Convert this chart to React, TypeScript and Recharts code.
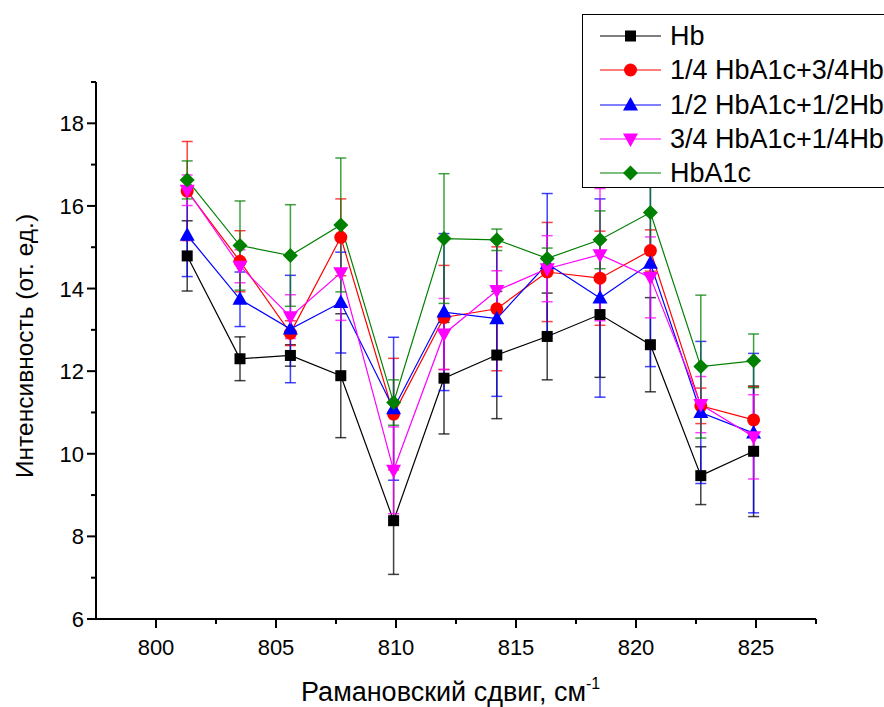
import React from 'react';
import { LineChart, Line, XAxis, YAxis, ErrorBar, Legend, Label } from 'recharts';

// Raman shift, cm-1
const shifts = [801.3, 803.5, 805.6, 807.7, 809.9, 812.0, 814.2, 816.3, 818.5, 820.6, 822.7, 824.9];

const hb = [14.79, 12.3, 12.38, 11.89, 8.38, 11.83, 12.39, 12.84, 13.37, 12.64, 9.47, 10.06];
const hbErr = [0.85, 0.53, 0.26, 1.5, 1.3, 1.35, 1.54, 1.05, 1.52, 1.14, 0.7, 1.58];

const quarter = [16.36, 14.66, 12.92, 15.24, 10.96, 13.3, 13.51, 14.4, 14.25, 14.92, 11.16, 10.82];
const quarterErr = [1.2, 0.74, 0.3, 0.93, 1.35, 1.26, 1.5, 1.2, 1.14, 0.5, 0.43, 0.8];

const half = [15.29, 13.74, 13.02, 13.66, 11.09, 13.43, 13.27, 14.6, 13.77, 14.61, 11.0, 10.5];
const halfErr = [1.0, 0.66, 1.3, 1.22, 1.73, 1.9, 1.88, 1.7, 2.4, 2.5, 1.72, 1.93];

const threeQuarter = [16.38, 14.54, 13.32, 14.38, 9.6, 12.9, 13.95, 14.48, 14.82, 14.27, 11.19, 10.41];
const threeQuarterErr = [0.37, 0.4, 0.53, 1.15, 1.05, 0.86, 0.48, 0.8, 1.6, 0.98, 0.68, 1.02];

const hba1c = [16.63, 15.04, 14.8, 15.54, 11.24, 15.21, 15.18, 14.73, 15.18, 15.84, 12.11, 12.25];
const hba1cErr = [0.46, 1.08, 1.23, 1.62, 0.55, 1.57, 0.26, 0.25, 0.7, 1.0, 1.73, 0.65];

const xTicks = [800, 802.5, 805, 807.5, 810, 812.5, 815, 817.5, 820, 822.5, 825, 827.5];
const yTicks = [6, 7, 8, 9, 10, 11, 12, 13, 14, 15, 16, 17, 18, 19];

const FONT = '"Liberation Sans", Arial, sans-serif';

const data = shifts.map((x, i) => ({
  x,
  hb: hb[i], hbErr: hbErr[i],
  quarter: quarter[i], quarterErr: quarterErr[i],
  half: half[i], halfErr: halfErr[i],
  threeQuarter: threeQuarter[i], threeQuarterErr: threeQuarterErr[i],
  hba1c: hba1c[i], hba1cErr: hba1cErr[i],
}));

type Shape = 'square' | 'circle' | 'up' | 'down' | 'diamond';

const series: { key: string; name: string; color: string; shape: Shape }[] = [
  { key: 'hb', name: 'Hb', color: '#000000', shape: 'square' },
  { key: 'quarter', name: '1/4 HbA1c+3/4Hb', color: '#ff0000', shape: 'circle' },
  { key: 'half', name: '1/2 HbA1c+1/2Hb', color: '#0000ff', shape: 'up' },
  { key: 'threeQuarter', name: '3/4 HbA1c+1/4Hb', color: '#ff00ff', shape: 'down' },
  { key: 'hba1c', name: 'HbA1c', color: '#008000', shape: 'diamond' },
];

const marker = (shape: Shape, cx: number, cy: number, color: string, key?: string | number) => {
  switch (shape) {
    case 'square':
      return <rect key={key} x={cx - 5.5} y={cy - 5.5} width={11} height={11} fill={color} />;
    case 'circle':
      return <circle key={key} cx={cx} cy={cy} r={6.5} fill={color} />;
    case 'up':
      return <polygon key={key} points={`${cx},${cy - 8} ${cx - 7.5},${cy + 5.5} ${cx + 7.5},${cy + 5.5}`} fill={color} />;
    case 'down':
      return <polygon key={key} points={`${cx},${cy + 8} ${cx - 7.5},${cy - 5.5} ${cx + 7.5},${cy - 5.5}`} fill={color} />;
    default:
      return <polygon key={key} points={`${cx},${cy - 7.5} ${cx + 7.5},${cy} ${cx},${cy + 7.5} ${cx - 7.5},${cy}`} fill={color} />;
  }
};

const XTick = (props: any) => {
  const { x, y, payload } = props;
  const major = payload.value % 5 === 0;
  return (
    <g>
      <line x1={x} y1={y} x2={x} y2={y + (major ? 9 : 5)} stroke="#000" strokeWidth={2} />
      {major && (
        <text x={x} y={y + 36} textAnchor="middle" fontSize={22} fontFamily={FONT} fill="#000">
          {payload.value}
        </text>
      )}
    </g>
  );
};

const YTick = (props: any) => {
  const { x, y, payload } = props;
  const major = payload.value % 2 === 0;
  return (
    <g>
      <line x1={x} y1={y} x2={x - (major ? 9 : 5)} y2={y} stroke="#000" strokeWidth={2} />
      {major && (
        <text x={x - 12} y={y + 8} textAnchor="end" fontSize={22} fontFamily={FONT} fill="#000">
          {payload.value}
        </text>
      )}
    </g>
  );
};

const XTitle = () => (
  <text x={301} y={701} textAnchor="start" fontSize={27} fontFamily={FONT} fill="#000">
    Рамановский сдвиг, см
    <tspan fontSize={16} dy={-12}>-1</tspan>
  </text>
);

const YTitle = () => (
  <text x={33} y={346} transform="rotate(-90 33 346)" textAnchor="middle" fontSize={24.5} fontFamily={FONT} fill="#000">
    Интенсивность (от. ед.)
  </text>
);

const LegendBox = () => (
  <div
    style={{
      width: 330,
      height: 174,
      border: '1.5px solid #000',
      boxSizing: 'border-box',
      background: '#fff',
      paddingTop: 4,
      fontFamily: FONT,
      fontSize: 27,
    }}
  >
    {series.map((s) => (
      <div key={s.key} style={{ height: 34.3, display: 'flex', alignItems: 'center' }}>
        <svg width={87} height={24} style={{ flex: 'none' }}>
          <line x1={17} y1={12} x2={78} y2={12} stroke={s.color} strokeWidth={1.2} />
          {marker(s.shape, 47.5, 12, s.color)}
        </svg>
        <span style={{ whiteSpace: 'nowrap', color: '#000', lineHeight: '34px' }}>{s.name}</span>
      </div>
    ))}
  </div>
);

export default function App() {
  return (
    <div style={{ position: 'absolute', left: 0, top: 0, width: 884, height: 707, overflow: 'hidden', background: '#fff' }}>
      <LineChart width={884} height={707} data={data} margin={{ top: 82, right: 68, bottom: 0, left: 0 }}>
        <XAxis
          dataKey="x"
          type="number"
          domain={[797.5, 827.5]}
          ticks={xTicks}
          interval={0}
          height={88}
          tickSize={0}
          tickMargin={0}
          tickLine={false}
          axisLine={{ stroke: '#000', strokeWidth: 2 }}
          tick={<XTick />}
          allowDataOverflow
        >
          <Label content={<XTitle />} />
        </XAxis>
        <YAxis
          type="number"
          domain={[6, 19]}
          ticks={yTicks}
          interval={0}
          width={96}
          tickSize={0}
          tickMargin={0}
          tickLine={false}
          axisLine={{ stroke: '#000', strokeWidth: 2 }}
          tick={<YTick />}
          allowDataOverflow
        >
          <Label content={<YTitle />} />
        </YAxis>
        <Legend
          layout="vertical"
          align="center"
          verticalAlign="middle"
          content={<LegendBox />}
          wrapperStyle={{ left: 582, top: 14, width: 330, height: 174 }}
        />
        {series.map((s) => (
          <Line
            key={s.key}
            dataKey={s.key}
            name={s.name}
            stroke={s.color}
            strokeWidth={1.2}
            isAnimationActive={false}
            dot={(p: any) => marker(s.shape, p.cx, p.cy, s.color, p.index)}
            activeDot={false}
          >
            <ErrorBar
              dataKey={`${s.key}Err`}
              direction="y"
              width={5.5}
              stroke={s.color}
              strokeOpacity={0.75}
              strokeWidth={1.5}
              isAnimationActive={false}
            />
          </Line>
        ))}
      </LineChart>
    </div>
  );
}
